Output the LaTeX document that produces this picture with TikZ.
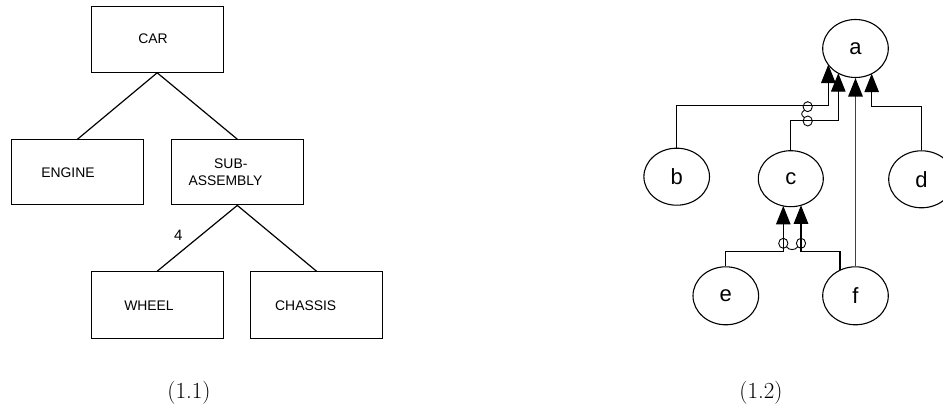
\documentclass[tikz,border=0pt]{standalone}
\usepackage{fontspec}
\newfontfamily\arialf{Liberation Sans}
\usetikzlibrary{shapes.geometric,arrows.meta,calc}
\begin{document}
\begin{tikzpicture}[x=1pt,y=-1pt,
  boxnode/.style={draw, line width=1.2pt, rectangle, minimum width=132pt, inner sep=0pt},
  boxtext/.style={font=\arialf\fontsize{13.9}{15}\selectfont, inner sep=0pt},
  circnode/.style={draw, line width=1.1pt, ellipse, minimum width=65.6pt, minimum height=58pt, inner sep=0pt, font=\arialf\fontsize{22}{24}\selectfont},
  link/.style={line width=1.2pt},
  arr/.style={line width=1.1pt, -{Triangle[width=14.5pt,length=18.5pt,black]}},
  grayarr/.style={arr, draw=black!75, line width=1.4pt},
  jump/.style={line width=0.9pt},
  capt/.style={font=\fontsize{23}{27}\selectfont, inner sep=0pt}]
\useasboundingbox (0,0) rectangle (943,409);

% ---------- left tree (1.1)
\node[boxnode, minimum height=66pt] (car) at (157.2,39.2) {};
\node[boxnode, minimum height=65pt] (engine) at (77.5,172.3) {};
\node[boxnode, minimum height=65pt] (sub) at (237.3,172.3) {};
\node[boxnode, minimum height=67pt] (wheel) at (157.2,305.3) {};
\node[boxnode, minimum height=67pt] (chassis) at (316.5,305.3) {};

\node[boxtext] (carlbl) at (153,39) {CAR};
\node[boxtext] (enginelbl) at (68,172.3) {ENGINE};
\node[boxtext] (sublbla) at (230.8,164) {SUB-};
\node[boxtext] (sublblb) at (225.5,181) {ASSEMBLY};
\node[boxtext] (wheellbl) at (149,306) {WHEEL};
\node[boxtext] (chassislbl) at (305.7,306) {CHASSIS};

\draw[link] (car.south) -- (engine.north);
\draw[link] (car.south) -- (sub.north);
\draw[link] (sub.south) -- (wheel.north);
\draw[link] (sub.south) -- (chassis.north);
\node[boxtext, font=\arialf\fontsize{15}{17}\selectfont] (four) at (178.3,235) {4};

\node[capt] (cap1) at (189,393) {(1.1)};

% ---------- right graph (1.2)
\node[circnode] (a) at (855.5,48.5) {a};
\node[circnode, minimum height=57pt] (b) at (676.7,176.7) {b};
\node[circnode, minimum width=65pt, minimum height=56pt] (c) at (790.8,178.7) {c};
\node[circnode, minimum height=57pt] (d) at (921.5,179.3) {d};
\node[circnode] (e) at (725.8,295.8) {e};
\node[circnode] (f) at (855.5,295.8) {f};

\coordinate (tb) at ($(a.center)+(-27.2,16.1)$);
\coordinate (tc) at ($(a.center)+(-17.2,24.7)$);
\coordinate (td) at ($(a.center)+(16.2,25.2)$);
\coordinate (tce) at ($(c.center)+(-7.5,27.2)$);
\coordinate (tcf) at ($(c.center)+(10.2,26.6)$);
\coordinate (fs) at ($(f.center)+(-15.5,-25.6)$);

\draw[arr] (b.north) -- ++(0,-41.7) -| (tb);
\draw[arr] (c.north) -- ++(0,-29.7) -| (tc);
\draw[arr] (d.north) -- ++(0,-43.6) -| (td);
\draw[grayarr] (f.north) -- (a.south);
\draw[arr] (e.north) -- ++(0,-15.1) -| (tce);
\draw[arr] (fs) -- ++(0,-18.5) -| (tcf);

% crossing marks
\draw[jump] (807.7,106.7) ellipse [x radius=4.6pt, y radius=5pt];
\draw[jump] (807.7,121) ellipse [x radius=4.6pt, y radius=5pt];
\draw[jump] (804.3,110.3) .. controls (800.8,112.5) and (800.8,115.3) .. (804.3,117.5);
\draw[jump] (783.3,243.3) ellipse [x radius=4.6pt, y radius=5pt];
\draw[jump] (801,243.3) ellipse [x radius=4.6pt, y radius=5pt];
\draw[jump] (786.5,246.8) .. controls (789,250.5) and (795.3,250.5) .. (797.8,246.8);

\node[capt] (cap2) at (761,393) {(1.2)};
\end{tikzpicture}
\end{document}
